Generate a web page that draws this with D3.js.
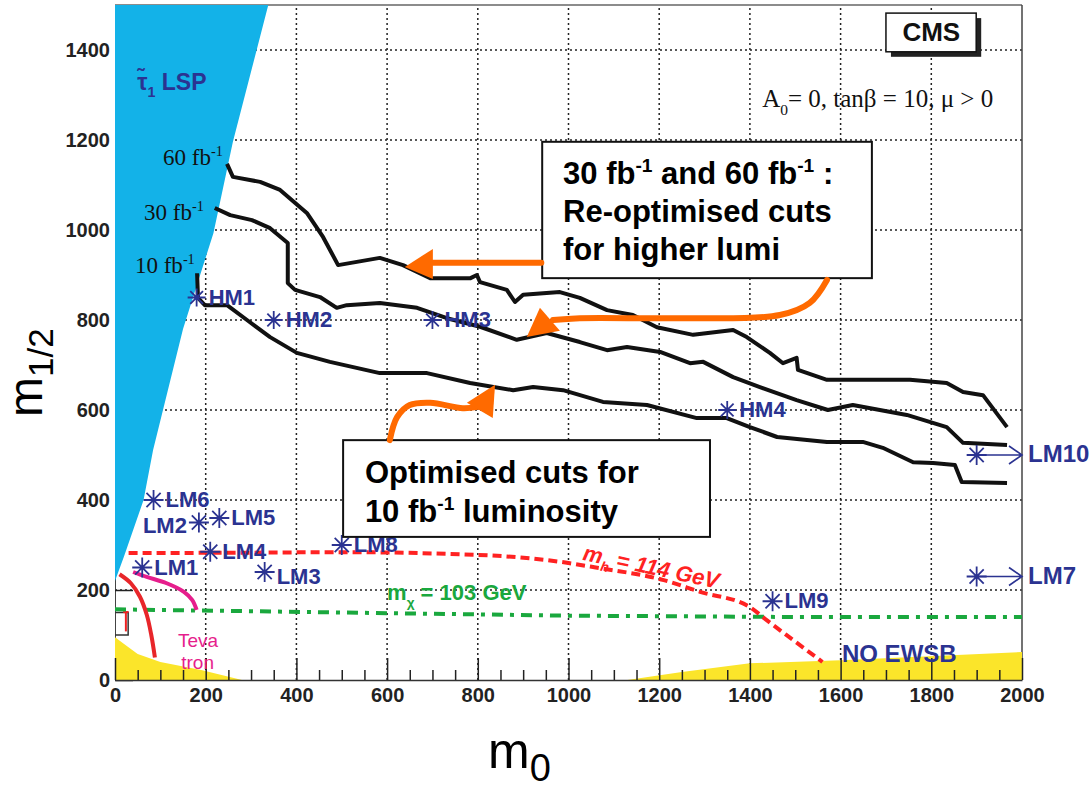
<!DOCTYPE html>
<html>
<head>
<meta charset="utf-8">
<script src="https://cdn.jsdelivr.net/npm/d3@7"></script>
<style>
  body { margin: 0; background: #fff; }
</style>
</head>
<body>
<div id="chart"></div>
<script>
// ---- values, (m0, m1/2) in GeV ----
const xTicks = [0, 200, 400, 600, 800, 1000, 1200, 1400, 1600, 1800, 2000];
const yTicks = [0, 200, 400, 600, 800, 1000, 1200, 1400];

const reach60 = [[247,1147],[260,1118],[320,1107],[364,1089],[423,1038],[459,984],[492,922],[584,938],[635,922],[695,893],[784,893],[798,900],[805,884],[864,867],[882,840],[900,856],[981,862],[1025,849],[1085,822],[1142,811],[1195,784],[1275,767],[1363,778],[1393,762],[1444,727],[1473,704],[1503,716],[1506,689],[1570,667],[1753,667],[1834,660],[1870,640],[1914,633],[1967,562]];
const reach30 = [[220,1049],[254,1033],[302,1022],[342,1004],[381,971],[381,882],[397,867],[452,851],[489,827],[511,833],[584,838],[666,827],[732,804],[805,785],[886,756],[952,771],[1025,751],[1085,733],[1129,740],[1202,729],[1268,704],[1297,707],[1363,673],[1422,651],[1503,622],[1572,600],[1627,611],[1746,589],[1834,562],[1870,527],[1967,522]];
const reach10 = [[181,904],[183,849],[198,833],[247,833],[291,800],[342,762],[401,727],[474,707],[584,682],[688,682],[783,660],[878,644],[922,651],[988,644],[1076,618],[1173,611],[1283,582],[1349,582],[1400,562],[1460,540],[1570,529],[1649,529],[1693,516],[1760,484],[1804,482],[1852,478],[1867,440],[1967,438]];

const stauLsp = [[0,220],[20,275],[63,400],[84,511],[150,780],[217,993],[260,1196],[338,1500],[0,1500]];
const noEwsbLeft = [[0,0],[0,95],[20,80],[50,58],[100,40],[190,22],[280,0]];
const noEwsbRight = [[1130,0],[1250,18],[1400,37],[1600,44],[2000,62],[2000,0]];

const higgs114 = [[30,282],[300,283],[500,284],[800,278],[1000,260],[1060,250],[1210,222],[1290,196],[1400,162],[1437,133],[1495,89],[1560,40]];
const chi103 = [[0,157],[500,150],[1000,143],[1500,140],[2000,140]];
const lepLimit = [[10,235],[35,215],[55,185],[70,145],[80,100],[88,50]];
const tevatron = [[40,240],[70,229],[114,215],[152,196],[170,178],[180,156]];

const pointNames = ["HM1","HM2","HM3","HM4","LM1","LM2","LM3","LM4","LM5","LM6","LM8","LM9","LM7","LM10"];
const pointM0    = [180, 350, 700, 1350, 60, 185, 330, 210, 230, 85, 500, 1450, 1900, 1900];
const pointM12   = [850, 800, 800, 600, 250, 350, 240, 285, 360, 400, 300, 175, 230, 500];

// ---- layout ----
const W = 1092, H = 790;
const x = d3.scaleLinear().domain([0, 2000]).range([115, 1022]);
const y = d3.scaleLinear().domain([0, 1500]).range([680, 5]);
const line = d3.line().x(d => x(d[0])).y(d => y(d[1]));
const smooth = d3.line().x(d => x(d[0])).y(d => y(d[1])).curve(d3.curveCatmullRom);
const monotone = d3.line().x(d => x(d[0])).y(d => y(d[1])).curve(d3.curveMonotoneX);

const navy = "#2b3391", orange = "#ff6a00";
const sans = "Liberation Sans, Arial, sans-serif";

const svg = d3.select("#chart").append("svg")
    .attr("width", W).attr("height", H)
    .attr("font-family", sans);

// dotted grid
svg.append("g").selectAll("line")
    .data(xTicks.filter(v => v > 0 && v < 2000))
    .enter().append("line")
    .attr("x1", d => x(d)).attr("x2", d => x(d))
    .attr("y1", y(0)).attr("y2", y(1500))
    .attr("stroke", "#222").attr("stroke-width", 1.5).attr("stroke-dasharray", "2,3");
svg.append("g").selectAll("line")
    .data(yTicks.filter(v => v > 0))
    .enter().append("line")
    .attr("x1", x(0)).attr("x2", x(2000))
    .attr("y1", d => y(d)).attr("y2", d => y(d))
    .attr("stroke", "#222").attr("stroke-width", 1.5).attr("stroke-dasharray", "2,3");

// y axis (ticks inward)
const yAxis = svg.append("g")
    .attr("transform", "translate(" + x(0) + ",0)")
    .call(d3.axisLeft(y).tickValues(yTicks).tickFormat(d3.format("d"))
        .tickSizeInner(-18).tickSizeOuter(0).tickPadding(5));
yAxis.select(".domain").attr("stroke", "#444");
yAxis.selectAll("line").attr("stroke", "#222").attr("stroke-width", 1.5);
yAxis.selectAll("text").attr("font-size", 20).attr("font-weight", "bold").attr("fill", "#222")
    .attr("font-family", sans);

// frame top / right
svg.append("line").attr("x1", x(0)).attr("x2", x(2000)).attr("y1", y(1500)).attr("y2", y(1500))
    .attr("stroke", "#666").attr("stroke-width", 1.5);
svg.append("line").attr("x1", x(2000)).attr("x2", x(2000)).attr("y1", y(1500)).attr("y2", y(0))
    .attr("stroke", "#444").attr("stroke-width", 1.5);

// excluded regions
svg.append("path").datum(stauLsp).attr("d", d => line(d) + "Z").attr("fill", "#13b2e8");
svg.append("path").datum(noEwsbLeft).attr("d", d => line(d) + "Z").attr("fill", "#fbe52a");
svg.append("path").datum(noEwsbRight).attr("d", d => line(d) + "Z").attr("fill", "#fbe52a");

// x axis with major + minor inward ticks
const minorTicks = d3.range(0, 2001, 50).filter(v => v % 200 !== 0);
const xMinor = svg.append("g")
    .attr("transform", "translate(0," + y(0) + ")")
    .call(d3.axisBottom(x).tickValues(minorTicks).tickSizeInner(-10).tickSizeOuter(0).tickFormat(""));
xMinor.select(".domain").remove();
const xAxis = svg.append("g")
    .attr("transform", "translate(0," + y(0) + ")")
    .call(d3.axisBottom(x).tickValues(xTicks).tickFormat(d3.format("d"))
        .tickSizeInner(-22).tickSizeOuter(0).tickPadding(8));
xAxis.select(".domain").attr("stroke", "#333").attr("stroke-width", 1.5);
[xMinor, xAxis].forEach(g => g.selectAll("line").attr("stroke", "#222").attr("stroke-width", 1.5));
xAxis.selectAll("text").attr("font-size", 20).attr("font-weight", "bold").attr("fill", "#222")
    .attr("font-family", sans);

// small box near the origin
svg.append("path").datum([[0,150],[29,150],[29,100],[0,100]]).attr("d", line)
    .attr("fill", "none").attr("stroke", "#333").attr("stroke-width", 1.5);
svg.append("path").datum([[18,151],[30,151]]).attr("d", line).attr("stroke", "#e22").attr("stroke-width", 2);
svg.append("path").datum([[24,151],[24,108]]).attr("d", line).attr("stroke", "#e22").attr("stroke-width", 2);

// theory lines
svg.append("path").datum(chi103).attr("d", line).attr("fill", "none")
    .attr("stroke", "#1aa83e").attr("stroke-width", 4).attr("stroke-dasharray", "11,7,4,7");
svg.append("path").datum(higgs114).attr("d", monotone).attr("fill", "none")
    .attr("stroke", "#f22").attr("stroke-width", 4).attr("stroke-dasharray", "9,5");
svg.append("path").datum(lepLimit).attr("d", smooth).attr("fill", "none")
    .attr("stroke", "#e8262a").attr("stroke-width", 4);
svg.append("path").datum(tevatron).attr("d", smooth).attr("fill", "none")
    .attr("stroke", "#e61e8c").attr("stroke-width", 4);

// reach contours
[reach60, reach30, reach10].forEach(c => {
    svg.append("path").datum(c).attr("d", line).attr("fill", "none")
        .attr("stroke", "#111").attr("stroke-width", 4).attr("stroke-linejoin", "round");
});

// benchmark points
const points = pointNames.map((n, i) => ({ name: n, m0: pointM0[i], m12: pointM12[i] }));
const offPlot = n => n === "LM7" || n === "LM10";
const star = r => {
    const a = r * 0.707;
    return `M0,${-r}V${r}M${-r},0H${r}M${-a},${-a}L${a},${a}M${-a},${a}L${a},${-a}`;
};
const pts = svg.append("g").selectAll("g").data(points).enter().append("g")
    .attr("transform", d => "translate(" + x(d.m0) + "," + y(d.m12) + ")");
pts.append("path").attr("d", d => star(d.name.startsWith("HM") ? 9 : 10))
    .attr("stroke", navy).attr("stroke-width", 1.8).attr("fill", "none");
// off-plot points: arrow to the frame
pts.filter(d => offPlot(d.name)).append("path")
    .attr("d", d => { const L = x(2000) - x(d.m0); return `M0,0H${L}M${L - 13},-9L${L},0L${L - 13},9`; })
    .attr("stroke", navy).attr("stroke-width", 1.6).attr("fill", "none");
pts.append("text")
    .attr("x", d => offPlot(d.name) ? x(2000) - x(d.m0) + 6 : d.name === "LM2" ? -12 : 12)
    .attr("y", d => d.name === "LM3" ? 12 : d.name === "LM2" ? 10 : 7)
    .attr("text-anchor", d => d.name === "LM2" ? "end" : "start")
    .attr("font-size", d => offPlot(d.name) ? 24 : 22)
    .attr("font-weight", "bold").attr("fill", navy)
    .text(d => d.name);

// rich text helper: parts = [[text, "sup"|"sub"|null], ...]
function rich(g, px, py, parts, size, attrs) {
    const t = g.append("text").attr("x", px).attr("y", py).attr("font-size", size);
    Object.entries(attrs || {}).forEach(([k, v]) => t.attr(k, v));
    let shift = 0;
    parts.forEach(([s, kind]) => {
        const target = kind === "sup" ? -0.4 * size : kind === "sub" ? 0.3 * size : 0;
        t.append("tspan").attr("dy", target - shift)
            .attr("font-size", kind ? size * 0.62 : size).text(s);
        shift = target;
    });
    return t;
}

// region / line labels
rich(svg, x(49), y(1311), [["τ̃", null], ["1", "sub"], [" LSP", null]], 23, { "font-weight": "bold", fill: navy });
const serif = { "font-family": "Liberation Serif, Times New Roman, serif", fill: "#111" };
rich(svg, x(106), y(1144), [["60 fb", null], ["-1", "sup"]], 23, serif);
rich(svg, x(64), y(1022), [["30 fb", null], ["-1", "sup"]], 23, serif);
rich(svg, x(44), y(904), [["10 fb", null], ["-1", "sup"]], 23, serif);
rich(svg, x(1427), y(1273), [["A", null], ["0", "sub"], ["= 0, tanβ = 10, μ > 0", null]], 25, serif);

const mh = rich(svg, 0, 0, [["m", null], ["h", "sub"], [" = 114 GeV", null]], 22,
    { "font-weight": "bold", "font-style": "italic", fill: "#f22" });
mh.attr("transform", "translate(" + x(1030) + "," + y(267) + ") rotate(12)");
rich(svg, x(600), y(178), [["m", null], ["χ", "sub"], [" = 103 GeV", null]], 22,
    { "font-weight": "bold", fill: "#1aa83e" });

svg.append("text").attr("x", x(139)).attr("y", y(74)).attr("font-size", 19).attr("fill", "#e61e8c").text("Teva");
svg.append("text").attr("x", x(146)).attr("y", y(24)).attr("font-size", 19).attr("fill", "#e61e8c").text("tron");
svg.append("text").attr("x", x(1603)).attr("y", y(40)).attr("font-size", 24).attr("font-weight", "bold")
    .attr("fill", navy).text("NO EWSB");

// CMS tag
svg.append("rect").attr("x", x(1700) + 5).attr("y", y(1482) + 5)
    .attr("width", x(1899) - x(1700)).attr("height", y(1396) - y(1482)).attr("fill", "#222");
svg.append("rect").attr("x", x(1700)).attr("y", y(1482))
    .attr("width", x(1899) - x(1700)).attr("height", y(1396) - y(1482))
    .attr("fill", "#fff").attr("stroke", "#111").attr("stroke-width", 1.5);
svg.append("text").attr("x", x(1800)).attr("y", y(1419)).attr("text-anchor", "middle")
    .attr("font-size", 26).attr("font-weight", "bold").attr("fill", "#111").text("CMS");

// annotation boxes
function box(x0, y0, x1, y1) {
    svg.append("rect").attr("x", x(x0)).attr("y", y(y0))
        .attr("width", x(x1) - x(x0)).attr("height", y(y1) - y(y0))
        .attr("fill", "#fff").attr("stroke", "#111").attr("stroke-width", 2);
}
const boxText = { "font-weight": "bold", fill: "#000" };
box(942, 1196, 1669, 893);
rich(svg, x(988), y(1102), [["30 fb", null], ["-1", "sup"], [" and 60 fb", null], ["-1", "sup"], [" :", null]], 31, boxText);
rich(svg, x(988), y(1018), [["Re-optimised cuts", null]], 31, boxText);
rich(svg, x(988), y(933), [["for higher lumi", null]], 31, boxText);
box(503, 533, 1312, 318);
rich(svg, x(551), y(438), [["Optimised cuts for", null]], 31, boxText);
rich(svg, x(551), y(351), [["10 fb", null], ["-1", "sup"], [" luminosity", null]], 31, boxText);

// orange arrows
const arrowLines = [
    [[940,927],[700,927]],
    [[1570,889],[1532,838],[1466,811],[1246,804],[1025,804],[966,800]],
    [[606,533],[622,584],[650,611],[695,616],[767,604],[800,607]]
];
const arrowHeads = [
    [[639,918],[701,958],[701,891]],
    [[908,762],[937,827],[981,776]],
    [[838,656],[776,616],[833,582]]
];
arrowLines.forEach(a => svg.append("path").datum(a).attr("d", smooth).attr("fill", "none")
    .attr("stroke", orange).attr("stroke-width", 6).attr("stroke-linecap", "round"));
arrowHeads.forEach(a => svg.append("path").datum(a).attr("d", d => line(d) + "Z").attr("fill", orange));

// axis titles
const xt = svg.append("text").attr("x", 488).attr("y", 768).attr("font-size", 50).attr("fill", "#000");
xt.append("tspan").text("m");
xt.append("tspan").attr("dy", 13).attr("font-size", 38).text("0");
const yt = svg.append("text").attr("transform", "translate(42,417) rotate(-90)")
    .attr("font-size", 48).attr("fill", "#000");
yt.append("tspan").text("m");
yt.append("tspan").attr("dy", 11).attr("font-size", 35).text("1/2");
</script>
</body>
</html>
